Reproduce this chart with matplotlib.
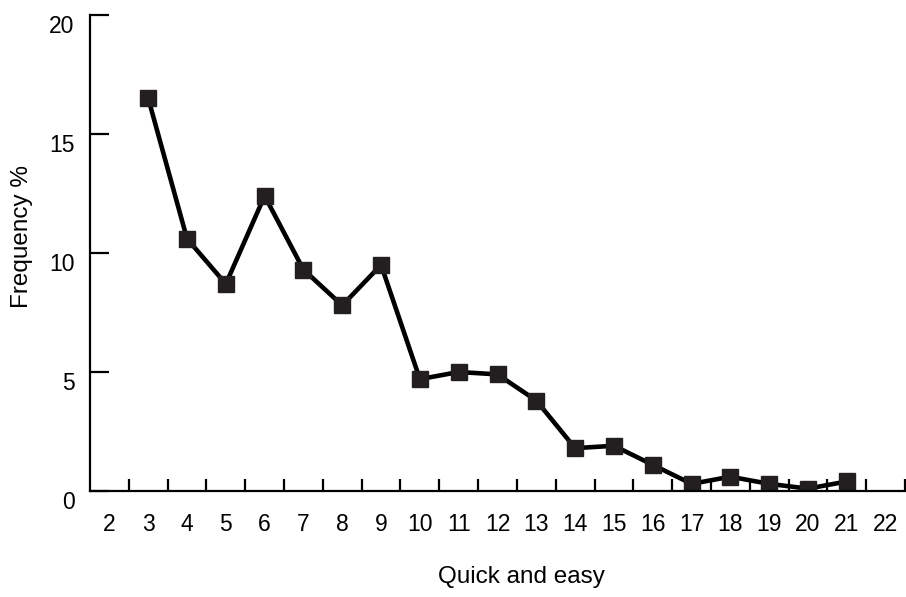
import matplotlib.pyplot as plt
import matplotlib.transforms as mtransforms
import numpy as np

plt.rcParams['font.family'] = ['Liberation Sans', 'DejaVu Sans']

categories = [str(c) for c in range(2, 23)]
score = [str(c) for c in range(3, 22)]
frequency = [16.5, 10.6, 8.7, 12.4, 9.3, 7.8, 9.5, 4.7, 5.0, 4.9,
             3.8, 1.8, 1.9, 1.1, 0.3, 0.6, 0.3, 0.1, 0.4]
yticks = [0, 5, 10, 15, 20]

fig = plt.figure(figsize=(9.06, 5.97), dpi=100)
ax = fig.add_axes((90 / 906, 106 / 597, 815 / 906, 476 / 597))

xpos = [categories.index(s) for s in score]
ax.plot(xpos, frequency, color='black', linewidth=3.3,
        marker='s', markersize=11.5, markerfacecolor='#231f20',
        markeredgecolor='#231f20', solid_joinstyle='miter')

ax.set_xlim(-0.5, len(categories) - 0.5)
ax.set_ylim(0, 20)

for side in ('top', 'right'):
    ax.spines[side].set_visible(False)
for side in ('left', 'bottom'):
    ax.spines[side].set_linewidth(1.6)

ax.set_xticks(np.arange(len(categories)))
ax.set_xticklabels(categories)
ax.set_xticks(np.arange(len(categories)) + 0.5, minor=True)
ax.tick_params(axis='x', which='major', length=0, pad=16, labelsize=16.5)
ax.tick_params(axis='x', which='minor', direction='in', length=9, width=1.6)

ax.set_yticks(yticks)
ax.set_yticklabels([str(v) for v in yticks])
ax.tick_params(axis='y', direction='in', length=14, width=1.6, pad=11,
               labelsize=16.5)
offset = mtransforms.ScaledTranslation(0, -9 / 100, fig.dpi_scale_trans)
for lbl in ax.get_yticklabels():
    lbl.set_transform(lbl.get_transform() + offset)

ax.set_xlabel('Quick and easy', fontsize=17.5)
ax.xaxis.set_label_coords((521 - 90) / 815, (491 - 566) / 476)
ax.set_ylabel('Frequency %', fontsize=17.5)
ax.yaxis.set_label_coords((33 - 90) / 815, (491 - 236) / 476)

fig.savefig('out.png', dpi=100)
